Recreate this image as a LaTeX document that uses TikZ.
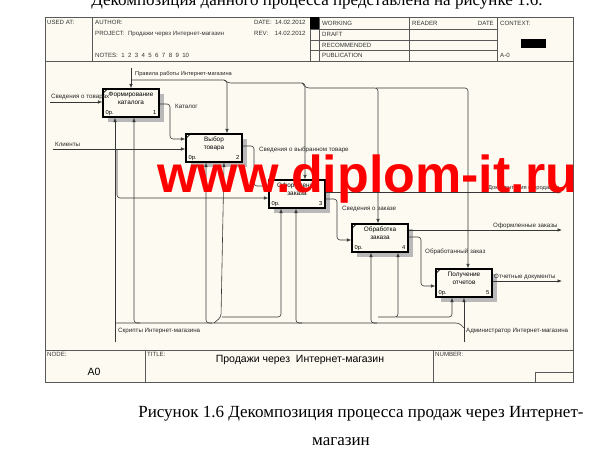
\documentclass[tikz,border=0pt]{standalone}
\usepackage{fontspec}
\setmainfont{Liberation Sans}
\newfontfamily\serifru{Liberation Serif}
\usetikzlibrary{arrows.meta,shadows}
\definecolor{cream}{RGB}{253,250,241}
\definecolor{wirec}{RGB}{55,55,55}
\definecolor{wm}{RGB}{255,0,0}
\begin{document}
\begin{tikzpicture}[x=1pt,y=-1pt,
 tiny/.style={font=\fontsize{6.1}{7}\selectfont, inner sep=0pt, anchor=base west, text=black!80},
 lbl/.style={font=\fontsize{6.2}{7}\selectfont, inner sep=0pt, anchor=base west, text=black!85},
 box/.style={draw=black, line width=1.1pt, fill=cream, minimum width=56pt, minimum height=28pt, inner sep=0pt,
   drop shadow={shadow xshift=5pt, shadow yshift=-5pt, fill=gray!55, opacity=1}},
 btxt/.style={font=\fontsize{6.4}{7.5}\selectfont, align=center, inner sep=0pt, anchor=north},
 bnum/.style={font=\fontsize{5.8}{6}\selectfont, inner sep=0pt},
 wire/.style={draw=wirec, line width=0.6pt, rounded corners=3pt},
 arr/.style={wire, -{Latex[length=4.5pt,width=3.4pt]}},
 frm/.style={draw=black!65, line width=0.7pt},
 capt/.style={font=\serifru\fontsize{17}{17}\selectfont, inner sep=0pt, anchor=base},
]
\useasboundingbox (0,0) rectangle (616,460);
\clip (0,0) rectangle (616,460);

% text above (cut off)
\node[capt] (toptext) at (317,6) {Декомпозиция данного процесса представлена на рисунке 1.6.};

% frame
\fill[cream] (45,17) rectangle (573,382);
\draw[frm] (45,17) rectangle (573,382);
% header
\draw[frm] (45,61) -- (573,61);
\draw[frm] (92,17) -- (92,61);
\draw[frm] (310,17) -- (310,61);
\draw[frm] (319,17) -- (319,61);
\draw[frm] (409,17) -- (409,61);
\draw[frm] (497,17) -- (497,61);
\draw[frm] (310,29) -- (497,29);
\draw[frm] (310,40) -- (497,40);
\draw[frm] (310,50) -- (497,50);
\fill[black] (310,17) rectangle (319,29);
\fill[black] (521,39) rectangle (546,48);
\node[tiny] (usedat) at (47,24.5) {USED AT:};
\node[tiny] (author) at (95,24.5) {AUTHOR:};
\node[tiny] (project) at (95,35.5) {PROJECT:\ \ Продажи через Интернет-магазин};
\node[tiny] (notes) at (95,57.5) {NOTES:\ \ 1\ \ 2\ \ 3\ \ 4\ \ 5\ \ 6\ \ 7\ \ 8\ \ 9\ \ 10};
\node[tiny] (date) at (254,24.5) {DATE:\ \ 14.02.2012};
\node[tiny] (rev) at (254,35.5) {REV:\ \ \ \ 14.02.2012};
\node[tiny] (working) at (322,25.5) {WORKING};
\node[tiny] (draft) at (322,36.5) {DRAFT};
\node[tiny] (recom) at (322,47.5) {RECOMMENDED};
\node[tiny] (publ) at (322,58) {PUBLICATION};
\node[tiny] (reader) at (412,25.5) {READER};
\node[tiny, anchor=base east] (rdate) at (494,25.5) {DATE};
\node[tiny] (context) at (500,25.5) {CONTEXT:};
\node[tiny] (am0) at (500,58) {A-0};

% title block
\draw[frm] (45,350) -- (573,350);
\draw[frm] (145,350) -- (145,382);
\draw[frm] (433,350) -- (433,382);
\draw[frm] (535,372) rectangle (573,382);
\node[tiny] (nodel) at (47,356.5) {NODE:};
\node[tiny] (titlel) at (147,356.5) {TITLE:};
\node[tiny] (numl) at (435,356.5) {NUMBER:};
\node[font=\fontsize{10.5}{11}\selectfont, inner sep=0pt, anchor=base] (a0) at (94,375) {A0};
\node[font=\fontsize{10.5}{11}\selectfont, inner sep=0pt, anchor=base] (title) at (300,362) {Продажи через\ \ Интернет-магазин};

% boxes
\node[box] (b1) at (131,103) {};
\node[box] (b2) at (214,148) {};
\node[box] (b3) at (297,194) {};
\node[box] (b4) at (380,238) {};
\node[box] (b5) at (464,283) {};
\foreach \b/\k in {b1/1,b2/2,b3/3,b4/4,b5/5}{
  \draw[line width=0.6pt] ([shift={(1pt,-4.5pt)}]\b.north west) -- ([shift={(4.5pt,-1pt)}]\b.north west);
  \node[bnum, anchor=base west] at ([shift={(3pt,3.5pt)}]\b.south west) {0р.};
  \node[bnum, anchor=base east] at ([shift={(-3pt,3.5pt)}]\b.south east) {\k};
}
\node[btxt] at ([yshift=-3.5pt]b1.north) {Формирование\\каталога};
\node[btxt] at ([yshift=-3.5pt]b2.north) {Выбор\\товара};
\node[btxt] at ([yshift=-3.5pt]b3.north) {Оформление\\заказа};
\node[btxt] at ([yshift=-3.5pt]b4.north) {Обработка\\заказа};
\node[btxt] at ([yshift=-3.5pt]b5.north) {Получение\\отчетов};

% inputs
\coordinate (iA) at (50,102);
\draw[arr] (iA) -- ([yshift=1pt]b1.west);
\node[lbl] at (51,99) {Сведения о товарах};
\coordinate (iK) at (53,149);
\draw[arr] (iK) -- ([yshift=-1pt]b2.west);
\draw[arr] (117,149) |- ([yshift=-4pt]b3.west);
\node[lbl] at (55,146) {Клиенты};

% box to box
\draw[arr] ([yshift=-1pt]b1.east) -| (170,139) -- ([yshift=9pt]b2.west);
\node[lbl] at (175,109) {Каталог};
\draw[arr] ([yshift=2pt]b2.east) -| (254,186) -- ([yshift=8pt]b3.west);
\node[lbl] at (259,151) {Сведения о выбранном товаре};
\draw[arr] ([yshift=-5pt]b3.east) -| (337,240) -- ([yshift=-2pt]b4.west);
\node[lbl] at (342,210) {Сведения о заказе};
\draw[arr] ([yshift=1pt]b4.east) -| (421,286) -- ([yshift=-3pt]b5.west);
\node[lbl] at (425,253) {Обработанный заказ};

% outputs
\coordinate (oD) at (562,192);
\draw[arr] ([yshift=2pt]b3.east) -- (oD);
\node[lbl, font=\fontsize{5.8}{6.5}\selectfont] at (488,189) {Документация о продажах};
\coordinate (oO) at (562,230);
\draw[arr] ([yshift=8pt]b4.east) -- (oO);
\node[lbl] at (493,227) {Оформленные заказы};
\coordinate (oR) at (562,281);
\draw[arr] ([yshift=2pt]b5.east) -- (oR);
\node[lbl] at (494,278) {Отчетные документы};

% controls
\coordinate (cP) at (131,68);
\draw[arr] (cP) -- (b1.north);
\draw[arr] (131,80) -| ([xshift=13pt]b2.north);
\draw[arr] (224,80) -- (228,83) -| ([xshift=8pt]b3.north);
\draw[arr] (302,83) -- (306,88) -| ([xshift=-2pt]b4.north);
\draw[arr] (376,88) -| ([xshift=4pt]b5.north);
\node[lbl, font=\fontsize{5.7}{6.5}\selectfont] at (135,76) {Правила работы Интернет-магазина};

% mechanisms
\coordinate (mS) at (115,342);
\coordinate (mA) at (464,342);
\draw[arr] (mS) -- ([xshift=-16pt]b1.south);
\draw[arr] (mA) -- (b5.south);
\draw[wire] (115,323) -- (459,323) -- (464,328);
\draw[arr] (140,323) -| ([xshift=3pt]b1.south);
\draw[arr] (212,323) -| ([xshift=-8pt]b2.south);
\draw[arr] (214,323) -- (221,317) -- ([xshift=10pt]b2.south);
\draw[arr] (222,317) -| ([xshift=-16pt]b3.south);
\draw[arr] (302,323) -| ([xshift=-1pt]b3.south);
\draw[arr] (377,323) -| ([xshift=-9pt]b4.south);
\draw[arr] (378,317) -| ([xshift=18pt]b4.south);
\draw[arr] (396,317) -| ([xshift=-12pt]b5.south);
\node[lbl] at (118,332) {Скрипты Интернет-магазина};
\node[lbl] at (466,332) {Администратор Интернет-магазина};

% watermark
\node[font=\fontsize{52}{52}\selectfont\bfseries, text=wm, inner sep=0pt, anchor=base west] (wmark) at (157,192) {www.diplom-it.ru};

% caption
\node[capt] (cap1) at (361,417) {Рисунок 1.6 Декомпозиция процесса продаж через Интернет-};
\node[capt] (cap2) at (341,445) {магазин};
\end{tikzpicture}
\end{document}
